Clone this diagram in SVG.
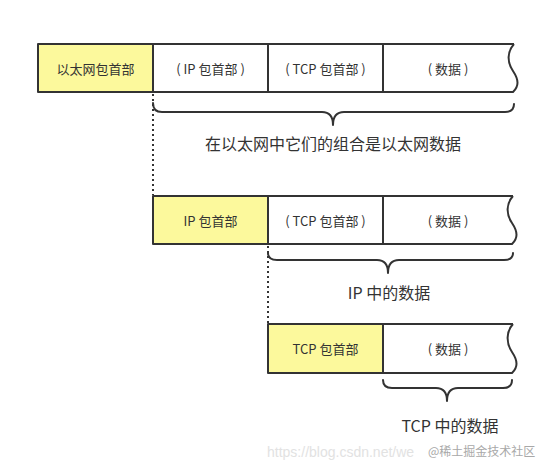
<svg xmlns="http://www.w3.org/2000/svg" width="545" height="473" viewBox="0 0 545 473">
<style>
.cell{fill:#fff;stroke:none}
.hdr{fill:#fcf99c;stroke:none}
.edge{fill:none;stroke:#333;stroke-width:2;stroke-linejoin:round}
.brace{fill:none;stroke:#333;stroke-width:2;stroke-linecap:round;stroke-linejoin:round}
.dot{fill:none;stroke:#333;stroke-width:2;stroke-dasharray:2 3}
.t{font-family:"Noto Sans CJK SC","Microsoft YaHei",sans-serif;font-size:13px;fill:#333;text-anchor:middle;dominant-baseline:central}
.lbl{font-family:"Noto Sans CJK SC","Microsoft YaHei",sans-serif;font-size:16px;fill:#333;text-anchor:middle;dominant-baseline:central}
</style>
<rect width="545" height="473" fill="#fff"/>

<g id="row1">
  <rect class="hdr" x="38" y="44" width="115" height="48"/>
  <path class="edge" d="M514,44 L38,44 L38,92 L513,92 C519,86 519,80 513,71 C507,62 507,52 514,44"/>
  <line class="edge" x1="153" y1="44" x2="153" y2="92"/>
  <line class="edge" x1="268" y1="44" x2="268" y2="92"/>
  <line class="edge" x1="383" y1="44" x2="383" y2="92"/>
  <text class="t" x="95.5" y="68">以太网包首部</text>
  <text class="t" x="210.5" y="68">( IP 包首部 )</text>
  <text class="t" x="325.5" y="68">( TCP 包首部 )</text>
  <text class="t" x="448" y="68">( 数据 )</text>
</g>

<g id="row2">
  <rect class="hdr" x="153" y="196" width="115" height="48"/>
  <path class="edge" d="M513,196 L153,196 L153,244 L512,244 C518,238 518,232 512,223 C506,214 506,204 513,196"/>
  <line class="edge" x1="268" y1="196" x2="268" y2="244"/>
  <line class="edge" x1="383" y1="196" x2="383" y2="244"/>
  <text class="t" x="210.5" y="220">IP 包首部</text>
  <text class="t" x="325.5" y="220">( TCP 包首部 )</text>
  <text class="t" x="448" y="220">( 数据 )</text>
</g>

<g id="row3">
  <rect class="hdr" x="268" y="324" width="115" height="49"/>
  <path class="edge" d="M513,324 L268,324 L268,373 L512,373 C518,367 518,361 512,352 C506,343 506,332 513,324"/>
  <line class="edge" x1="383" y1="324" x2="383" y2="373"/>
  <text class="t" x="325.5" y="348">TCP 包首部</text>
  <text class="t" x="448" y="348">( 数据 )</text>
</g>

<g id="connectors">
  <line class="dot" x1="153" y1="94" x2="153" y2="195"/>
  <line class="dot" x1="268" y1="246" x2="268" y2="323"/>
  <path class="brace" d="M153,103 Q153,112 162,112 L322,112 Q333,112 333,125 Q333,112 344,112 L505,112 Q514,112 514,104"/>
  <path class="brace" d="M268,253 Q268,260 277,260 L377,260 Q388,260 388,273 Q388,260 399,260 L504,260 Q513,260 513,253"/>
  <path class="brace" d="M383,380 Q383,388 392,388 L436,388 Q447,388 447,401 Q447,388 458,388 L503,388 Q512,388 512,380"/>
</g>

<g id="labels">
  <text class="lbl" x="333" y="143">在以太网中它们的组合是以太网数据</text>
  <text class="lbl" x="389" y="292">IP 中的数据</text>
  <text class="lbl" x="450" y="425">TCP 中的数据</text>
</g>

<g id="watermark">
  <text x="267" y="457" font-family="Liberation Sans, Arial, sans-serif" font-size="14" fill="#e2e2e2">https://blog.csdn.net/we</text>
  <text x="428" y="456" font-family="Noto Sans CJK SC, sans-serif" font-size="12" fill="#a8a8a8">@稀土掘金技术社区</text>
</g>
</svg>
